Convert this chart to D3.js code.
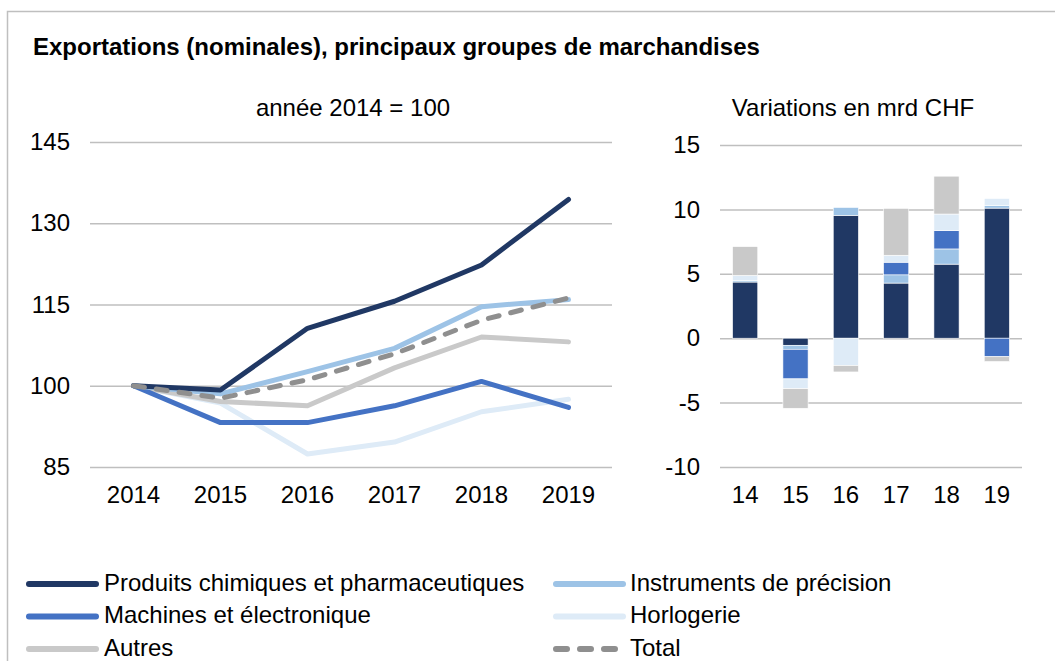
<!DOCTYPE html>
<html>
<head>
<meta charset="utf-8">
<script src="https://cdn.jsdelivr.net/npm/d3@7"></script>
<style>
  body { margin: 0; background: #fff; }
  svg { display: block; font-family: "Liberation Sans", Arial, sans-serif; }
</style>
</head>
<body>
<svg id="chart" width="1055" height="661"></svg>
<script>
// years for the index chart and short labels for the bars
var years = ['2014', '2015', '2016', '2017', '2018', '2019']
var barYears = ['14', '15', '16', '17', '18', '19']

var seriesNames = [
  'Produits chimiques et pharmaceutiques',
  'Instruments de précision',
  'Machines et électronique',
  'Horlogerie',
  'Autres',
  'Total',
]

// index values, 2014 = 100
var chimie = [100, 99.2, 110.6, 115.6, 122.3, 134.4]
var instruments = [100, 98.5, 102.6, 106.9, 114.6, 115.9]
var machines = [100, 93.2, 93.2, 96.3, 100.8, 96.0]
var horlogerie = [100, 96.8, 87.4, 89.6, 95.2, 97.5]
var autres = [100, 97.1, 96.3, 103.3, 109.0, 108.1]
var total = [100, 97.7, 101.1, 105.9, 112.1, 116.2]

// yearly changes, mrd CHF
var dChimie = [4.36, -0.55, 9.54, 4.28, 5.75, 10.1]
var dInstruments = [0.1, -0.31, 0.61, 0.64, 1.18, 0.21]
var dMachines = [0.0, -2.3, 0.0, 0.98, 1.42, -1.44]
var dHorlogerie = [0.41, -0.76, -2.12, 0.54, 1.29, 0.54]
var dAutres = [2.24, -1.52, -0.5, 3.64, 2.94, -0.37]

var lineTicks = [85, 100, 115, 130, 145]
var barTicks = [-10, -5, 0, 5, 10, 15]

var colors = ['#203864', '#9dc3e6', '#4472c4', '#deebf7', '#c9c9c9', '#8f8f8f']

var svg = d3.select('#chart')
var gridColor = '#bfbfbf'
var fs = 24

// frame
svg.append('path')
  .attr('d', 'M7.5,661 V11.5 H1055')
  .attr('fill', 'none')
  .attr('stroke', '#bfbfbf')
  .attr('stroke-width', 1.5)

svg.append('text')
  .attr('x', 33)
  .attr('y', 55)
  .attr('font-size', fs)
  .attr('font-weight', 'bold')
  .attr('fill', '#000')
  .text('Exportations (nominales), principaux groupes de marchandises')

function styleAxis(g) {
  g.select('.domain').remove()
  g.selectAll('line').attr('stroke', gridColor).attr('stroke-width', 1.5)
  g.selectAll('text').attr('font-size', fs).attr('fill', '#000').attr('font-family', null)
}

// ---------- line chart ----------
var lx = d3.scaleBand().domain(years).range([90, 612])
var ly = d3.scaleLinear().domain([85, 145]).range([467, 142])

svg.append('text')
  .attr('x', 353)
  .attr('y', 116)
  .attr('text-anchor', 'middle')
  .attr('font-size', fs)
  .text('année 2014 = 100')

var lg = svg.append('g')

lg.append('g')
  .attr('transform', 'translate(90,0)')
  .call(d3.axisLeft(ly).tickValues(lineTicks).tickSize(-522).tickPadding(20).tickFormat(String))
  .call(styleAxis)

lg.append('g')
  .attr('transform', 'translate(0,467)')
  .call(d3.axisBottom(lx).tickSize(0).tickPadding(19))
  .call(styleAxis)

var lineSeries = [chimie, instruments, machines, horlogerie, autres, total]
var line = d3.line()
  .x(function (d, i) { return lx(years[i]) + lx.bandwidth() / 2 })
  .y(function (d) { return ly(d) })

// draw order: light ones first, dark on top
var drawOrder = [3, 4, 2, 1, 0, 5]
drawOrder.forEach(function (k) {
  lg.append('path')
    .datum(lineSeries[k])
    .attr('d', line)
    .attr('fill', 'none')
    .attr('stroke', colors[k])
    .attr('stroke-width', 5)
    .attr('stroke-linecap', 'round')
    .attr('stroke-linejoin', 'round')
    .attr('stroke-dasharray', k == 5 ? '11,12' : null)
})

// ---------- bar chart ----------
var bx = d3.scaleBand().domain(barYears).range([720, 1022]).paddingInner(0.5).paddingOuter(0.25)
var by = d3.scaleLinear().domain([-10, 15]).range([467, 145])

svg.append('text')
  .attr('x', 853)
  .attr('y', 116)
  .attr('text-anchor', 'middle')
  .attr('font-size', fs)
  .text('Variations en mrd CHF')

var bg = svg.append('g')

bg.append('g')
  .attr('transform', 'translate(720,0)')
  .call(d3.axisLeft(by).tickValues(barTicks).tickSize(-302).tickPadding(20).tickFormat(String))
  .call(styleAxis)

bg.append('g')
  .attr('transform', 'translate(0,467)')
  .call(d3.axisBottom(bx).tickSize(0).tickPadding(19))
  .call(styleAxis)

var barRows = barYears.map(function (y, i) {
  return { year: y, s0: dChimie[i], s1: dInstruments[i], s2: dMachines[i], s3: dHorlogerie[i], s4: dAutres[i] }
})
var stack = d3.stack().keys(['s0', 's1', 's2', 's3', 's4']).offset(d3.stackOffsetDiverging)
var stacked = stack(barRows)

bg.selectAll('.layer')
  .data(stacked)
  .enter()
  .append('g')
  .attr('fill', function (d, i) { return colors[i] })
  .selectAll('rect')
  .data(function (d) { return d })
  .enter()
  .append('rect')
  .attr('x', function (d) { return bx(d.data.year) })
  .attr('width', bx.bandwidth())
  .attr('y', function (d) { return by(Math.max(d[0], d[1])) })
  .attr('height', function (d) { return Math.abs(by(d[0]) - by(d[1])) })
  .attr('stroke', '#fff')
  .attr('stroke-width', 0.6)

// ---------- legend ----------
var legendPos = [
  [26, 584], [553, 584],
  [26, 616.5], [553, 616.5],
  [26, 649], [553, 649],
]
var legend = svg.append('g')
seriesNames.forEach(function (name, k) {
  var p = legendPos[k]
  legend.append('line')
    .attr('x1', p[0] + 3)
    .attr('x2', k == 5 ? p[0] + 74 : p[0] + 70)
    .attr('y1', p[1])
    .attr('y2', p[1])
    .attr('stroke', colors[k])
    .attr('stroke-width', 6)
    .attr('stroke-linecap', 'round')
    .attr('stroke-dasharray', k == 5 ? '11,13' : null)
  legend.append('text')
    .attr('x', p[0] + (k % 2 == 0 ? 78 : 77))
    .attr('y', p[1] + 6.5)
    .attr('font-size', fs)
    .text(name)
})
</script>
</body>
</html>
